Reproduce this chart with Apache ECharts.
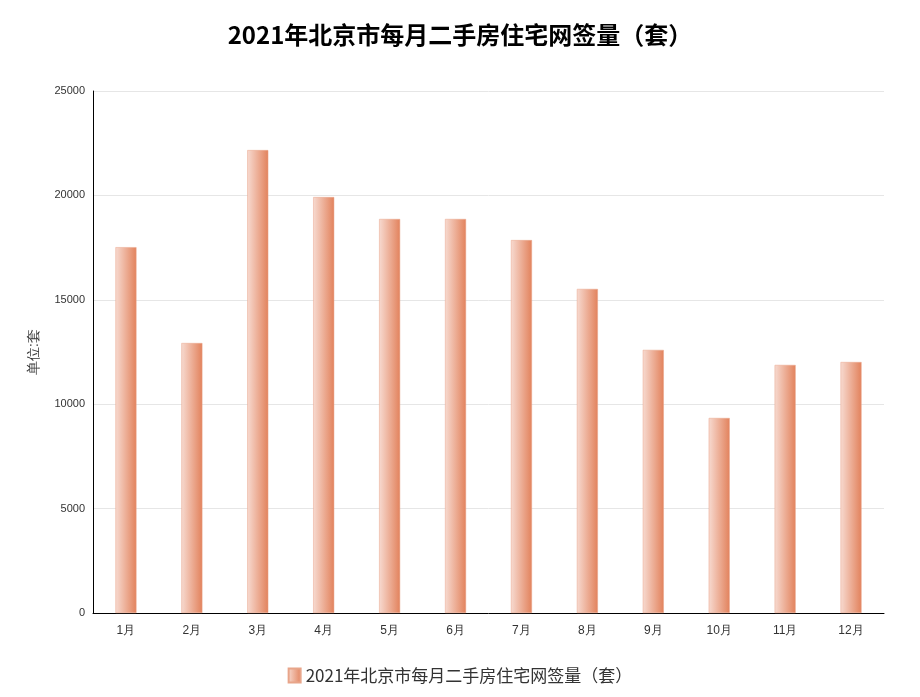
<!DOCTYPE html>
<html lang="zh">
<head>
<meta charset="UTF-8">
<title>2021年北京市每月二手房住宅网签量</title>
<script src="https://cdn.jsdelivr.net/npm/echarts@6/dist/echarts.min.js"></script>
<style>
  body { margin: 0; background: #fff; }
  #main { width: 920px; height: 697px; }
</style>
</head>
<body>
<div id="main"></div>
<script>
  var months = ['1月', '2月', '3月', '4月', '5月', '6月', '7月', '8月', '9月', '10月', '11月', '12月'];
  var deals = [17520, 12930, 22170, 19920, 18870, 18870, 17860, 15520, 12600, 9340, 11880, 12020];
  var seriesName = '2021年北京市每月二手房住宅网签量（套）';

  var barColor = new echarts.graphic.LinearGradient(0, 0, 1, 0, [
    { offset: 0, color: '#f7dad0' },
    { offset: 1, color: '#e2825c' }
  ]);

  var myChart = echarts.init(document.getElementById('main'));
  myChart.setOption({
    animation: false,
    title: {
      text: seriesName,
      left: 'center',
      top: 18,
      textStyle: { fontSize: 24, fontWeight: 'bold', color: '#000', fontFamily: 'Noto Sans CJK SC' }
    },
    legend: {
      bottom: 8,
      icon: 'rect',
      itemWidth: 12,
      itemHeight: 14,
      textStyle: { fontSize: 17, color: '#333', fontFamily: 'Noto Sans CJK SC' },
      data: [seriesName]
    },
    grid: { left: 93, right: 36, top: 91, bottom: 84 },
    xAxis: {
      type: 'category',
      data: months,
      axisLine: { lineStyle: { color: '#000' } },
      axisTick: { show: false },
      axisLabel: { color: '#333', fontSize: 12, margin: 12 }
    },
    yAxis: {
      type: 'value',
      min: 0,
      max: 25000,
      interval: 5000,
      name: '单位:套',
      nameLocation: 'middle',
      nameGap: 52,
      nameTextStyle: { color: '#333', fontSize: 14 },
      axisLine: { show: true, lineStyle: { color: '#000' } },
      axisTick: { show: false },
      axisLabel: { color: '#333', fontSize: 11, formatter: function (v) { return String(v); } },
      splitLine: { lineStyle: { color: '#e6e6e6' } }
    },
    series: [{
      name: seriesName,
      type: 'bar',
      barWidth: 21,
      data: deals,
      itemStyle: { color: barColor, borderColor: '#e8a58a', borderWidth: 0.5 }
    }]
  });
</script>
</body>
</html>
